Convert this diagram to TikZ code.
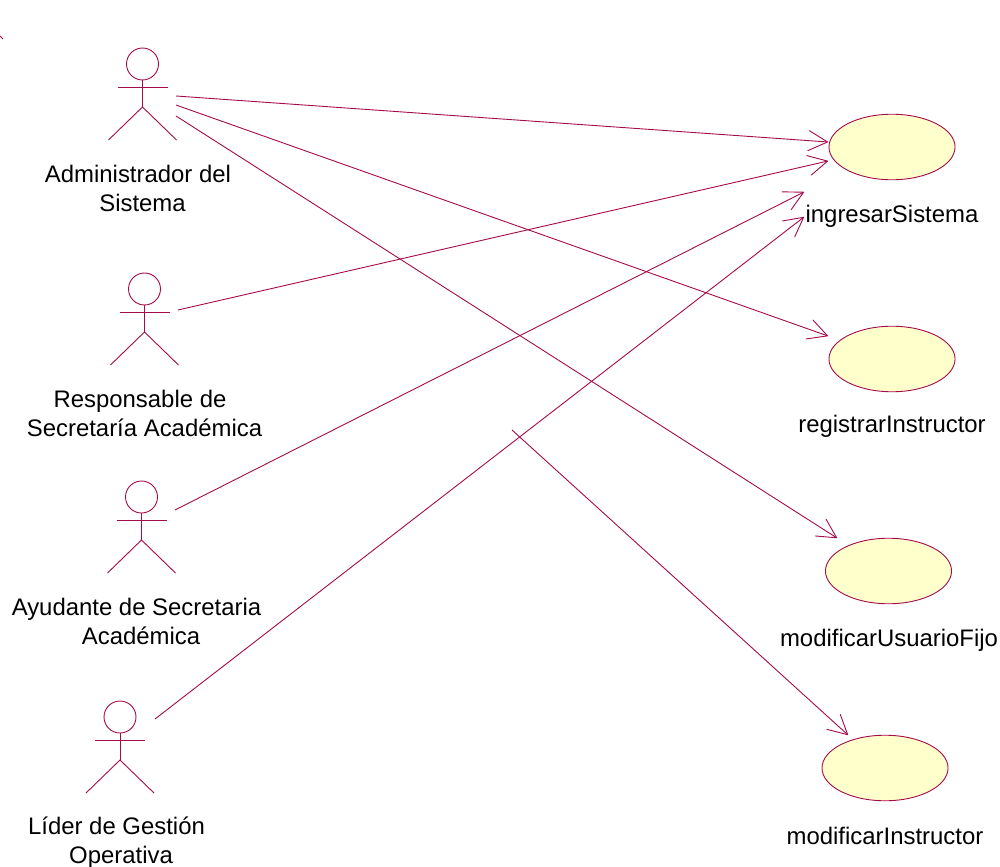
\documentclass[tikz,border=0pt]{standalone}
\usepackage{fontspec}
\setmainfont{Liberation Sans}
\usepackage{xcolor}
\usetikzlibrary{positioning}
\usetikzlibrary{shapes}
\usetikzlibrary{arrows.meta}
\definecolor{rosemaroon}{RGB}{165,10,75}
\definecolor{caseyellow}{RGB}{255,255,203}
\tikzset{
    usecase/.style = {ellipse, draw = rosemaroon, fill = caseyellow, line width = 0.09mm, inner sep = 0, minimum width = 1.26cm, minimum height = 0.655cm},
    assoc/.style = {draw = rosemaroon, line width = 0.09mm, -{Straight Barb[length=0.19cm,width=0.2cm,round]}},
    caption/.style = {font = \fontsize{6.8}{8.25}\selectfont, align = center, inner sep = 0, text = black},
}
\newcommand\armspan{25}
\newcommand\footspan{34}
\newcommand\lineshift{\hspace*{0.09cm}}
% head centre is #1,#2
\newcommand\actorfigure[2]{
    \draw[rosemaroon, line width=0.09mm] (#1,#2) circle [radius=16];
    \draw[rosemaroon, line width=0.09mm] (#1-\armspan,#2+23) -- (#1+\armspan,#2+23);
    \draw[rosemaroon, line width=0.09mm] (#1,#2+16) -- (#1,#2+43);
    \draw[rosemaroon, line width=0.09mm] (#1-\footspan,#2+76) -- (#1,#2+43) -- (#1+\footspan,#2+76);
}
\begin{document}
\begin{tikzpicture}[x=0.01cm,y=-0.01cm]
    \useasboundingbox (0,0) rectangle (1000,867);
    % --- Actors
    \actorfigure{142.5}{64}
    \actorfigure{144.5}{289}
    \actorfigure{141.5}{497}
    \actorfigure{120}{717}
    \node[caption] (admin) at (138,188) {Administrador del\\\lineshift Sistema};
    \node[caption] (responsable) at (140,413) {Responsable de\\\lineshift Secretaría Académica};
    \node[caption] (ayudante) at (136.5,621.5) {Ayudante de Secretaria\\\lineshift Académica};
    \node[caption] (lider) at (116.5,843) {Líder de Gestión\\\lineshift Operativa};
    % --- Use cases
    \node[usecase] (ingresar) at (892,147) {};
    \node[usecase] (registrar) at (892,359) {};
    \node[usecase] (modusuario) at (888.5,571) {};
    \node[usecase] (modinstructor) at (885,768) {};
    \node[caption] (ingresarlabel) at (892,216) {ingresarSistema};
    \node[caption] (registrarlabel) at (892,426.5) {registrarInstructor};
    \node[caption] (modusuariolabel) at (889,640) {modificarUsuarioFijo};
    \node[caption] (modinstructorlabel) at (885,836) {modificarInstructor};
    % --- Connector ends
    \coordinate (adminone) at (176,96);
    \coordinate (admintwo) at (176,105);
    \coordinate (adminthree) at (176,116);
    \coordinate (responsableend) at (178,310);
    \coordinate (ayudanteend) at (175,510);
    \coordinate (liderend) at (155,719);
    \coordinate (ingresarone) at (828,142);
    \coordinate (ingresartwo) at (828,161);
    \coordinate (ingresarthree) at (804,192);
    \coordinate (ingresarfour) at (804,217);
    \coordinate (registrarend) at (828,336);
    \coordinate (modusuarioend) at (837,538);
    \coordinate (modinstructorend) at (848,735);
    \coordinate (strayend) at (512,430);
    \coordinate (cornerone) at (0,36);
    \coordinate (cornertwo) at (3,39);
    % --- Associations
    \draw[assoc] (adminone) -- (ingresarone);
    \draw[assoc] (admintwo) -- (registrarend);
    \draw[assoc] (adminthree) -- (modusuarioend);
    \draw[assoc] (responsableend) -- (ingresartwo);
    \draw[assoc] (ayudanteend) -- (ingresarthree);
    \draw[assoc] (liderend) -- (ingresarfour);
    \draw[assoc] (strayend) -- (modinstructorend);
    \draw[rosemaroon, line width=0.09mm] (cornerone) -- (cornertwo);
\end{tikzpicture}
\end{document}
